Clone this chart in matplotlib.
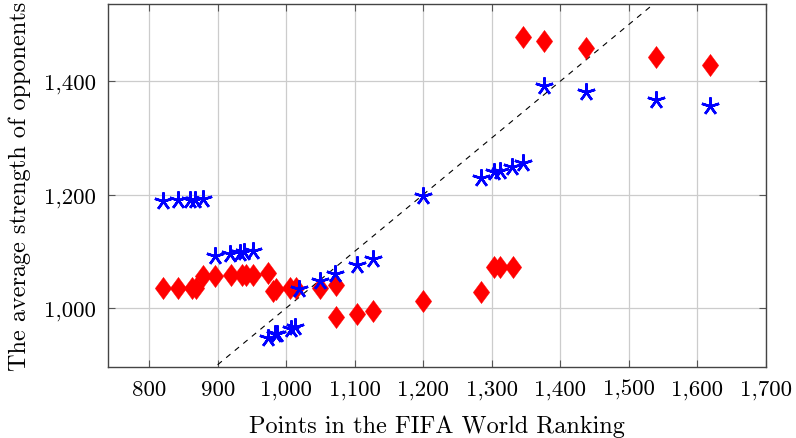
import matplotlib
matplotlib.use("Agg")
import matplotlib.pyplot as plt
from matplotlib.ticker import FuncFormatter
from matplotlib.path import Path
import numpy as np

plt.rcParams['font.family'] = ['cmr10', 'DejaVu Serif']
plt.rcParams['axes.formatter.use_mathtext'] = True

# Series 1 (red diamonds)
red_x = [820, 842, 863, 868, 879, 896, 919, 935, 942, 952, 973, 980, 985, 1006, 1015,
         1049, 1072, 1072, 1103, 1126, 1200, 1284, 1303, 1312, 1331, 1345, 1376, 1437, 1540, 1619]
red_y = [1036, 1036, 1036, 1036, 1056, 1056, 1058, 1058, 1058, 1059, 1061, 1030, 1034, 1035, 1035,
         1036, 1040, 984, 989, 994, 1012, 1028, 1072, 1072, 1073, 1478, 1471, 1459, 1442, 1428]

# Series 2 (blue stars)
blue_x = [820, 842, 860, 867, 879, 896, 918, 933, 938, 952, 973, 984, 987, 1007, 1013, 1018,
          1049, 1071, 1103, 1126, 1199, 1284, 1303, 1312, 1330, 1345, 1376, 1437, 1540, 1619]
blue_y = [1189, 1190, 1191, 1191, 1193, 1092, 1095, 1097, 1098, 1101, 948, 954, 954, 963, 966, 1033,
          1048, 1060, 1076, 1087, 1198, 1230, 1239, 1242, 1248, 1255, 1391, 1381, 1367, 1357]

xticks = [800, 900, 1000, 1100, 1200, 1300, 1400, 1500, 1600, 1700]
yticks = [1000, 1200, 1400]

diamond = Path([(0, 1), (0.74, 0), (0, -1), (-0.74, 0), (0, 1)],
               [Path.MOVETO, Path.LINETO, Path.LINETO, Path.LINETO, Path.CLOSEPOLY])

fig = plt.figure(figsize=(7.96, 4.39), dpi=100)
ax = fig.add_axes([108/796, 1 - 368/439, (766-108)/796, (368-5)/439])

ax.set_xlim(740, 1700)
ax.set_ylim(896, 1536)

ax.plot([800, 1700], [800, 1700], linestyle=(0, (5, 5)), color='black', linewidth=0.8, zorder=2)

ax.plot(red_x, red_y, linestyle='none', marker=diamond, markersize=16,
        color='red', markeredgecolor='red', markeredgewidth=0.3, zorder=3)
ax.plot(blue_x, blue_y, linestyle='none', marker=(5, 2, 0), markersize=13,
        markeredgewidth=1.8, color='blue', markeredgecolor='blue', zorder=4)

ax.set_xticks(xticks)
ax.set_yticks(yticks)
fmt = FuncFormatter(lambda v, p: f"{v:,.0f}")
ax.xaxis.set_major_formatter(fmt)
ax.yaxis.set_major_formatter(fmt)
ax.tick_params(direction='in', length=5, width=0.8, color='#555555', labelsize=16.5,
               top=True, right=True, pad=9)
ax.grid(True, color='#cccccc', linewidth=0.9, zorder=0)
ax.set_axisbelow(True)
for s in ax.spines.values():
    s.set_color('#444444')
    s.set_linewidth(1.0)

ax.set_xlabel('Points in the FIFA World Ranking', fontsize=17.5, labelpad=11)
ax.set_ylabel('The average strength of opponents', fontsize=17.5, labelpad=9)

fig.savefig('out.png', dpi=100)
